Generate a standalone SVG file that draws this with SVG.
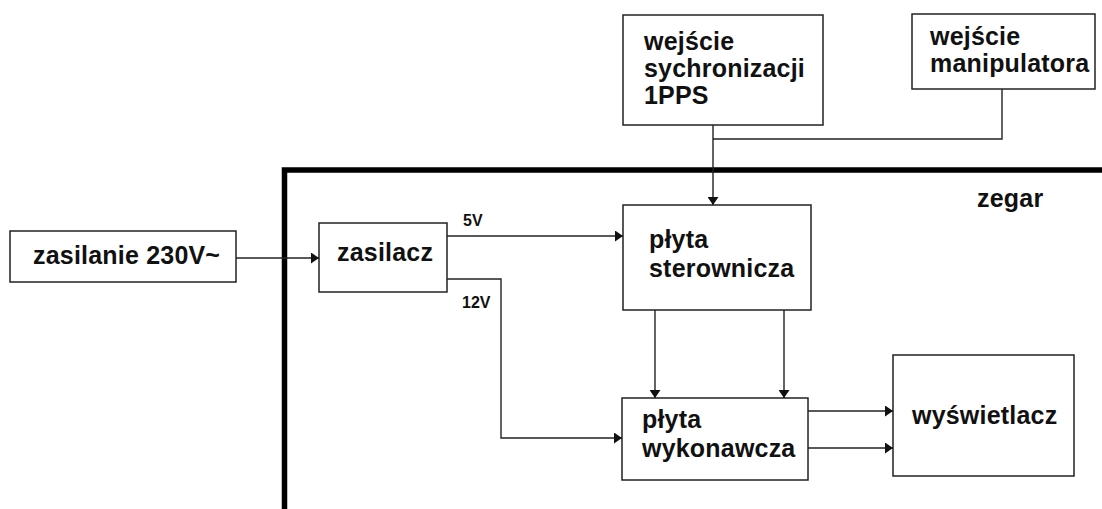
<svg xmlns="http://www.w3.org/2000/svg" width="1102" height="509" viewBox="0 0 1102 509">
  <style>
    .box { fill: #fff; stroke: #222; stroke-width: 1.5; }
    .lbl { font-family: "Liberation Sans", Arial, sans-serif; font-weight: bold; font-size: 25px; letter-spacing: 0.2px; fill: #111; }
    .small { font-family: "Liberation Sans", Arial, sans-serif; font-weight: bold; font-size: 16px; fill: #111; }
    .wire { fill: none; stroke: #222; stroke-width: 1.4; }
    .frame { fill: none; stroke: #000; stroke-width: 5.5; }
  </style>
  <defs>
    <marker id="arrow" markerUnits="userSpaceOnUse" markerWidth="9" markerHeight="11" refX="8" refY="5.5" orient="auto">
      <path d="M0,0 L8,5.5 L0,11 z" fill="#111"/>
    </marker>
  </defs>
  <rect width="1102" height="509" fill="#fff"/>

  <!-- clock enclosure -->
  <g id="zegar">
    <path class="frame" d="M284.5,509 V170 H1102"/>
    <text class="lbl" x="977" y="207">zegar</text>
  </g>

  <g id="zasilanie">
    <rect class="box" x="10" y="231" width="226" height="51"/>
    <text class="lbl" x="33" y="264">zasilanie 230V~</text>
  </g>

  <g id="zasilacz">
    <rect class="box" x="319" y="223" width="128" height="69"/>
    <text class="lbl" x="337" y="261">zasilacz</text>
  </g>

  <g id="wejscie-1pps">
    <rect class="box" x="623" y="15" width="200" height="110"/>
    <text class="lbl" x="644" y="50">wejście</text>
    <text class="lbl" x="644" y="77">sychronizacji</text>
    <text class="lbl" x="644" y="104">1PPS</text>
  </g>

  <g id="wejscie-manipulatora">
    <rect class="box" x="912" y="14" width="183" height="75"/>
    <text class="lbl" x="930" y="45">wejście</text>
    <text class="lbl" x="930" y="72">manipulatora</text>
  </g>

  <g id="plyta-sterownicza">
    <rect class="box" x="623" y="205" width="188" height="105"/>
    <text class="lbl" x="649" y="248">płyta</text>
    <text class="lbl" x="649" y="277">sterownicza</text>
  </g>

  <g id="plyta-wykonawcza">
    <rect class="box" x="622" y="398" width="186" height="82"/>
    <text class="lbl" x="642" y="428">płyta</text>
    <text class="lbl" x="642" y="457">wykonawcza</text>
  </g>

  <g id="wyswietlacz">
    <rect class="box" x="893" y="355" width="181" height="121"/>
    <text class="lbl" x="912" y="424">wyświetlacz</text>
  </g>

  <g id="connectors">
    <!-- mains to power supply -->
    <path class="wire" d="M236,258 H319" marker-end="url(#arrow)"/>
    <!-- 5V rail -->
    <path class="wire" d="M447,236 H623" marker-end="url(#arrow)"/>
    <text class="small" x="463" y="226">5V</text>
    <!-- 12V rail -->
    <path class="wire" d="M447,279 H501 V438 H622" marker-end="url(#arrow)"/>
    <text class="small" x="462" y="308">12V</text>
    <!-- inputs merged into controller -->
    <path class="wire" d="M1002,89 V139 H713"/>
    <path class="wire" d="M713,125 V205" marker-end="url(#arrow)"/>
    <!-- controller to driver board -->
    <path class="wire" d="M655,310 V398" marker-end="url(#arrow)"/>
    <path class="wire" d="M784,310 V398" marker-end="url(#arrow)"/>
    <!-- driver board to display -->
    <path class="wire" d="M808,411 H893" marker-end="url(#arrow)"/>
    <path class="wire" d="M808,448 H893" marker-end="url(#arrow)"/>
  </g>
</svg>
